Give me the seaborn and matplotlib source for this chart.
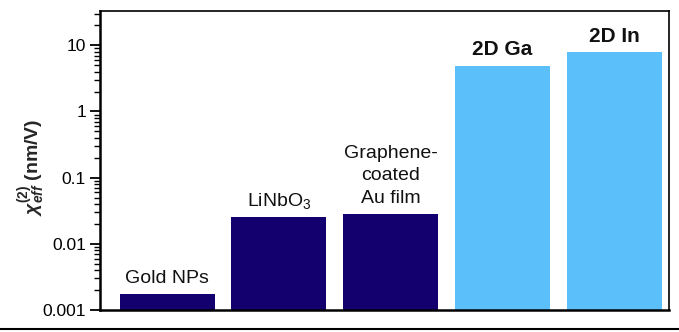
import matplotlib
matplotlib.use("Agg")
import matplotlib.pyplot as plt
from matplotlib.lines import Line2D
import seaborn as sns
import pandas as pd

# Effective second-order nonlinear susceptibility of several materials
materials = ["Gold NPs", "LiNbO$_3$", "Graphene-\ncoated\nAu film", "2D Ga", "2D In"]
chi_eff = [0.00175, 0.025, 0.028, 4.8, 7.8]
group = ["ref", "ref", "ref", "2d", "2d"]
label_bold = [False, False, False, True, True]
ytick_vals = [0.001, 0.01, 0.1, 1, 10]
ytick_labels = ["0.001", "0.01", "0.1", "1", "10"]

colors = {"ref": "#13006E", "2d": "#5BC0FA"}

sns.set_theme(style="white")
plt.rcParams["font.family"] = ["Liberation Sans", "DejaVu Sans"]
plt.rcParams["mathtext.fontset"] = "custom"
plt.rcParams["mathtext.rm"] = "Liberation Sans"
plt.rcParams["mathtext.it"] = "Liberation Sans:italic"
plt.rcParams["mathtext.bf"] = "Liberation Sans:bold"
plt.rcParams["mathtext.bfit"] = "Liberation Sans:bold:italic"

df = pd.DataFrame({"material": materials, "chi": chi_eff, "group": group})

fig = plt.figure(figsize=(6.79, 3.32), dpi=100)
ax = fig.add_axes([100 / 679, 1 - 310 / 332, 569 / 679, 299 / 332])
ax.set_yscale("log")

sns.barplot(data=df, x="material", y="chi", hue="group", palette=colors,
            width=0.85, dodge=False, legend=False, saturation=1, ax=ax,
            edgecolor="none")

ax.set_ylim(0.001, 33)
ax.set_xlim(-0.6, 4.49)
ax.set_yticks(ytick_vals)
ax.set_yticklabels(ytick_labels, fontsize=12.5)
ax.set_xticks([])
ax.set_xlabel("")
ax.tick_params(axis="y", which="major", direction="out", length=7, width=1.3,
               left=True, colors="black", pad=3)
ax.tick_params(axis="y", which="minor", direction="out", length=4, width=1.0,
               left=True, colors="black")

ax.set_ylabel(r"$\mathbfit{\chi}^{\mathbf{(2)}}_{\mathbfit{eff}}$ (nm/V)",
              fontsize=14, fontweight="bold")
ax.yaxis.set_label_coords(-0.092, 0.478)

for sp in ["left", "bottom"]:
    ax.spines[sp].set_linewidth(1.8)
for sp in ["top", "right"]:
    ax.spines[sp].set_linewidth(1.2)
for sp in ax.spines.values():
    sp.set_color("black")
    sp.set_visible(True)

# value labels sitting just above each bar
for i, (name, val, bold) in enumerate(zip(materials, chi_eff, label_bold)):
    ax.annotate(name, xy=(i, val), xytext=(0, 5), textcoords="offset points",
                ha="center", va="bottom", fontsize=15 if bold else 14,
                fontweight="bold" if bold else "normal",
                linespacing=1.45, color="#111111")

# rule along the bottom edge of the figure
fig.add_artist(Line2D([0, 1], [1 - 329 / 332] * 2, color="black", lw=1.5,
                      transform=fig.transFigure))

fig.savefig("out.png", dpi=100)
